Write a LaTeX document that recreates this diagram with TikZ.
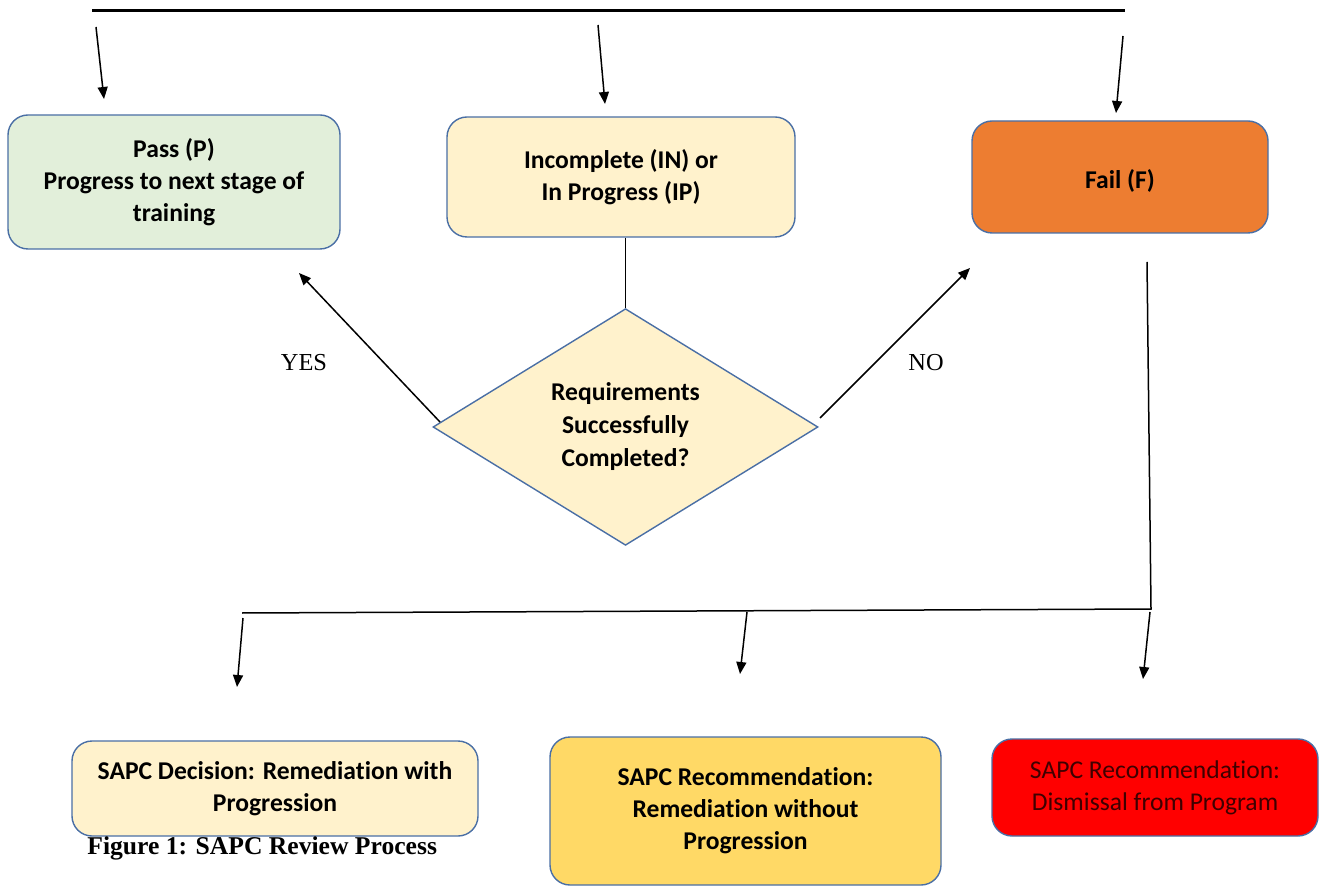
\documentclass[tikz,border=0pt]{standalone}
\usepackage{fontspec}
\setmainfont{Liberation Serif}
\newfontfamily\boxfont[Ligatures={NoCommon,NoContextual},Contextuals=NoAlternate]{Carlito}
\usetikzlibrary{shapes.geometric,arrows.meta}
\definecolor{bordblue}{HTML}{4A6FA5}
\definecolor{passgreen}{HTML}{E2EFDA}
\definecolor{lightyel}{HTML}{FFF2CC}
\definecolor{failorange}{HTML}{ED7D31}
\definecolor{goldyel}{HTML}{FFD966}
\definecolor{dismissred}{HTML}{FF0000}
\definecolor{darkredtext}{HTML}{3F0000}
\tikzset{
  rbox/.style={draw=bordblue, line width=0.7pt, rounded corners=10pt, align=center,
    font=\boxfont\bfseries\fontsize{12.8pt}{16pt}\selectfont, inner sep=2pt},
  decis/.style={diamond, draw=bordblue, line width=0.7pt, fill=lightyel, align=center,
    inner sep=0pt, font=\boxfont\bfseries\fontsize{12.8pt}{16.5pt}\selectfont},
  conn/.style={line width=0.75pt, black},
  arr/.style={conn, -{Triangle[length=6pt,width=5pt]}},
  lbl/.style={font=\fontsize{12.2pt}{14pt}\selectfont},
}
\begin{document}
\begin{tikzpicture}[x=0.5pt,y=-0.5pt]
\useasboundingbox (0,0) rectangle (1320,886);
% top bar
\coordinate (tl) at (92,11);
\coordinate (tr) at (1125,11);
\draw[line width=1.5pt] (tl) -- (tr);
% boxes
\node[rbox, fill=passgreen, minimum width=166pt, minimum height=67pt] (pass) at (174,182)
  {Pass (P)\\Progress to next stage of\\training};
\node[rbox, fill=lightyel, minimum width=174pt, minimum height=60pt] (inc) at (621,177)
  {Incomplete (IN) or\\In Progress (IP)};
\node[rbox, fill=failorange, minimum width=148pt, minimum height=56pt,
  text height=15pt, text depth=3pt] (fail) at (1120,177)
  {Fail (F)};
\node[decis, minimum width=192.5pt, minimum height=115.5pt] (req) at (625.5,427)
  {Requirements\\Successfully\\Completed?};
\node[rbox, fill=lightyel, minimum width=203pt, minimum height=47.5pt] (remw) at (275,788.5)
  {SAPC Decision: Remediation with\\Progression};
\node[rbox, fill=goldyel, minimum width=195.5pt, minimum height=74pt] (remwo) at (745.5,811)
  {SAPC Recommendation:\\Remediation without\\Progression};
\node[rbox, fill=dismissred, minimum width=163pt, minimum height=48.5pt,
  font=\boxfont\fontsize{12.8pt}{16pt}\selectfont, text=darkredtext] (dis) at (1155,787.5)
  {SAPC Recommendation:\\Dismissal from Program};
% top arrows
\coordinate (a1s) at (96,27);   \coordinate (a1e) at (104,99);
\coordinate (a2s) at (598,25);  \coordinate (a2e) at (605,104);
\coordinate (a3s) at (1123,36); \coordinate (a3e) at (1116,113);
\draw[arr] (a1s) -- (a1e);
\draw[arr] (a2s) -- (a2e);
\draw[arr] (a3s) -- (a3e);
% incomplete to diamond
\draw[conn] (inc.south -| req.north) -- (req.north);
% yes / no
\coordinate (ys) at (440,422); \coordinate (ye) at (299,273);
\coordinate (ns) at (820,418); \coordinate (ne) at (970,268);
\draw[arr] (ys) -- (ye);
\draw[arr] (ns) -- (ne);
\node[lbl] (yes) at (304,363) {YES};
\node[lbl] (no) at (926,363) {NO};
% fail down line and lower bar
\coordinate (fd1) at (1147,262);
\coordinate (fd2) at (1151,609);
\coordinate (bl) at (242,613);
\draw[conn] (fd1) -- (fd2) -- (bl);
% lower arrows
\coordinate (b1s) at (243,618);  \coordinate (b1e) at (237,687);
\coordinate (b2s) at (747,612);  \coordinate (b2e) at (740,674);
\coordinate (b3s) at (1150,612); \coordinate (b3e) at (1143,679);
\draw[arr] (b1s) -- (b1e);
\draw[arr] (b2s) -- (b2e);
\draw[arr] (b3s) -- (b3e);
% caption
\node[font=\bfseries\fontsize{12.8pt}{14pt}\selectfont, anchor=west, inner sep=0pt] (cap) at (87,848)
  {Figure 1: SAPC Review Process};
\end{tikzpicture}
\end{document}
